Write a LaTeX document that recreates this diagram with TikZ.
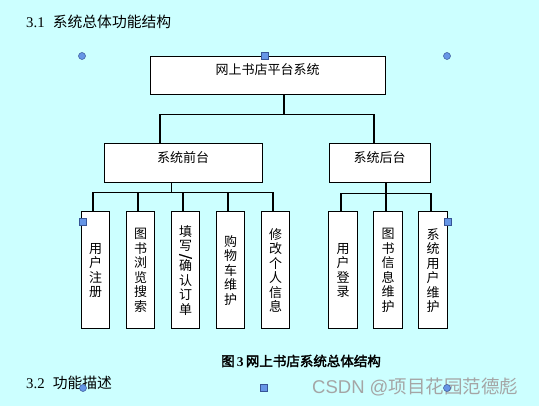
\documentclass[tikz,border=0pt]{standalone}
\usepackage{fontspec}
\usepackage{graphicx}
\setmainfont{Liberation Serif}
\newfontfamily\cjk{Noto Sans CJK SC}
\newfontfamily\cjkbold[FakeBold=2.5]{Noto Sans CJK SC}
\newfontfamily\latinsans{Liberation Sans}
\definecolor{pagebg}{RGB}{204,255,255}
\definecolor{handlefill}{RGB}{102,150,230}
\definecolor{handleline}{RGB}{55,85,150}
\definecolor{markgray}{RGB}{165,165,165}
\tikzset{mainbox/.style={
		draw, fill=white, line width=1pt, inner sep=0pt,
		text height=18.5pt, text depth=20pt,
		font=\cjk\fontsize{13}{15}\selectfont
}}
\tikzset{leafbox/.style={
		draw, fill=white, line width=1pt, inner sep=0pt,
		minimum width=28.5pt, minimum height=117pt, align=center,
		font=\cjk\fontsize{13}{14.5}\selectfont
}}
\tikzset{link/.style={line width=1.2pt}}
\tikzset{roundhandle/.style={fill=handlefill, draw=handleline, line width=0.5pt}}
\tikzset{squarehandle/.style={fill=handlefill, draw=handleline, line width=0.6pt}}

\begin{document}
\begin{tikzpicture}[x=1pt, y=-1pt]
  \useasboundingbox (0,0) rectangle (539,406);
  \fill[pagebg] (0,0) rectangle (539,406);

  \node[anchor=west, inner sep=0pt, font=\fontsize{14.8}{17}\selectfont] (sec1) at (26,22) {3.1\hspace{0.55em}{\cjk 系统总体功能结构}};

  \node[mainbox, minimum width=235pt] (top) at (267.5,75.5) {网上书店平台系统};
  \node[mainbox, minimum width=158pt] (front) at (183,163) {系统前台};
  \node[mainbox, minimum width=101pt] (back) at (379.5,163) {系统后台};

  \node[leafbox] (f1) at (95.5,270.5) {用\\户\\注\\册};
  \node[leafbox] (f2) at (140.5,270.5) {图\\书\\浏\\览\\搜\\索};
  \node[leafbox] (f3) at (185.5,270.5) {填\\写\\[-5pt]{\cjkbold\rotatebox[origin=c]{-90}{/}}\\[-4pt]确\\认\\订\\单};
  \node[leafbox] (f4) at (230.5,270.5) {购\\物\\车\\维\\护};
  \node[leafbox] (f5) at (275.5,270.5) {修\\改\\个\\人\\信\\息};
  \node[leafbox] (b1) at (343,270.5) {用\\户\\登\\录};
  \node[leafbox] (b2) at (388,270.5) {图\\书\\信\\息\\维\\护};
  \node[leafbox] (b3) at (433,270.5) {系\\统\\用\\户\\维\\护};

  \draw[link] ([xshift=16.5pt]top.south) -- ++(0,-19pt) coordinate (upbus);
  \draw[link] ([xshift=-23pt]front.north) |- (upbus) -| ([xshift=-5.5pt]back.north);

  \draw[link] ([xshift=-11.5pt]front.south) -- ++(0,-10pt) coordinate (frontbus);
  \draw[link] ([xshift=-2.5pt]f1.north) |- (frontbus);
  \draw[link] ([xshift=-2.5pt]f2.north) |- (frontbus);
  \draw[link] ([xshift=-2.5pt]f3.north) |- (frontbus);
  \draw[link] ([xshift=-2.5pt]f4.north) |- (frontbus);
  \draw[link] ([xshift=-2.5pt]f5.north) |- (frontbus);

  \draw[link] ([xshift=6.5pt]back.south) -- ++(0,-11pt) coordinate (backbus);
  \draw[link] ([xshift=-2pt]b1.north) |- (backbus);
  \draw[link] ([xshift=-2pt]b2.north) |- (backbus);
  \draw[link] ([xshift=-2pt]b3.north) |- (backbus);

  \node[font=\cjkbold\fontsize{13.5}{15}\selectfont] (caption) at (301,361) {图\,{\rmfamily\bfseries 3}\,网上书店系统总体结构};
  \node[anchor=west, inner sep=0pt, font=\fontsize{14.8}{17}\selectfont] (sec2) at (26,383) {3.2\hspace{0.55em}{\cjk 功能描述}};
  \node[anchor=west, inner sep=0pt, text=markgray, font=\fontsize{18.5}{20}\selectfont] (mark) at (312,387) {{\latinsans CSDN @}{\cjk 项目花园范德彪}};

  \foreach \p in {(82,56),(447,56),(83,388),(447,388)}
    \filldraw[roundhandle] \p circle (3.5pt);
  \foreach \p in {(264.5,56),(82.5,222),(447.5,222),(264,388)}
    \filldraw[squarehandle] \p ++(-3.5pt,-3.5pt) rectangle ++(7pt,7pt);
\end{tikzpicture}
\end{document}
